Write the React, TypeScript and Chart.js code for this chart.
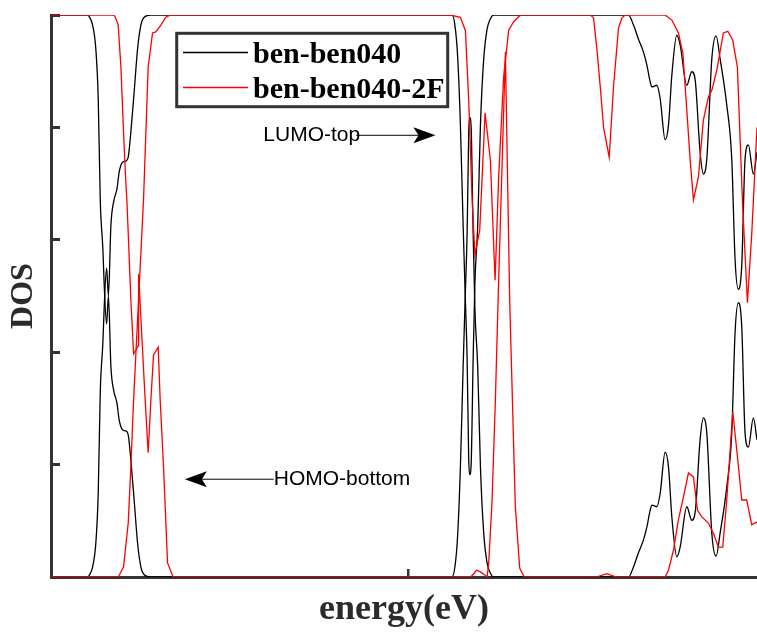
import React, { useEffect, useRef } from "react";
import { Chart, registerables } from "chart.js";

Chart.register(...registerables);

// ---------- data ----------
const seriesNames = ["ben-ben040", "ben-ben040-2F"];
const seriesColors = ["#000000", "#ff0000"];
const xTitle = "energy(eV)";
const yTitle = "DOS";
const xTickValues = [0];
const yTickValues = [0, 0.2, 0.4, 0.6, 0.8, 1];
const annotationTexts = ["LUMO-top", "HOMO-bottom"];

const blackEnergy = [
  -5.0, -4.487, -4.465, -4.418, -4.372, -4.339, -4.311, -4.274, -4.256, -4.222, -4.197, -4.162, -4.12,
  -4.078, -4.046, -3.999, -3.953, -3.92, -3.883, -3.837, -3.789, -3.743, -3.697, -3.603, 0.61, 0.656,
  0.689, 0.726, 0.764, 0.796, 0.82, 0.842, 0.856, 0.876, 0.904, 0.929, 0.968, 1.006, 1.052, 1.099,
  1.145, 1.187, 3.077, 3.147, 3.216, 3.286, 3.334, 3.38, 3.404, 3.473, 3.52, 3.589, 3.636, 3.683,
  3.753, 3.799, 3.892, 3.962, 4.008, 4.078, 4.124, 4.172, 4.242, 4.302, 4.358, 4.451, 4.521, 4.567,
  4.613, 4.661, 4.707, 4.753, 4.823, 4.874,
];
const blackDosA = [
  1, 1, 0.997, 0.982, 0.938, 0.849, 0.671, 0.582, 0.52, 0.45, 0.5, 0.374, 0.33, 0.31, 0.279, 0.262,
  0.26, 0.253, 0.208, 0.137, 0.06, 0.018, 0.004, 0, 0, 0.025, 0.078, 0.196, 0.374, 0.51, 0.612, 0.79,
  0.818, 0.8, 0.612, 0.475, 0.374, 0.196, 0.078, 0.025, 0.007, 0, 0, 0.018, 0.043, 0.066, 0.089,
  0.119, 0.128, 0.125, 0.149, 0.222, 0.196, 0.107, 0.036, 0.053, 0.125, 0.101, 0.114, 0.244, 0.283,
  0.256, 0.078, 0.037, 0.078, 0.16, 0.256, 0.434, 0.488, 0.445, 0.256, 0.231, 0.283, 0.244,
];
const blackDosB = [
  0, 0, 0.003, 0.018, 0.062, 0.151, 0.329, 0.418, 0.48, 0.55, 0.5, 0.626, 0.67, 0.69, 0.721, 0.738,
  0.74, 0.747, 0.792, 0.863, 0.94, 0.982, 0.996, 1, 1, 0.975, 0.922, 0.804, 0.626, 0.49, 0.388, 0.21,
  0.182, 0.2, 0.388, 0.525, 0.626, 0.804, 0.922, 0.975, 0.993, 1, 1, 0.982, 0.957, 0.934, 0.911,
  0.881, 0.872, 0.875, 0.851, 0.778, 0.804, 0.893, 0.964, 0.947, 0.875, 0.899, 0.886, 0.756, 0.717,
  0.744, 0.922, 0.963, 0.922, 0.84, 0.744, 0.566, 0.512, 0.555, 0.744, 0.769, 0.717, 0.756,
];

const redEnergyA = [
  -5.0, -4.138, -4.106, -4.06, -4.022, -3.985, -3.953, -3.939, -3.92, -3.883, -3.845, -3.813, -3.781,
  -3.775, -3.683, -3.641, -3.603, -3.566, -3.501, -3.473, -3.426, -3.37, -3.292, 0.866, 0.908, 0.95,
  1.006, 1.061, 1.099, 1.122, 1.169, 1.215, 1.253, 1.309, 1.355, 1.415, 1.494, 1.555, 1.62, 2.626,
  2.775, 2.905, 3.589, 3.636, 3.706, 3.775, 3.845, 3.915, 3.985, 4.041, 4.102, 4.194, 4.264, 4.334,
  4.395, 4.451, 4.535, 4.591, 4.661, 4.73, 4.8, 4.874,
];
const redDosA = [
  1, 1, 0.998, 0.982, 0.907, 0.79, 0.701, 0.671, 0.612, 0.493, 0.397, 0.404, 0.411, 0.539, 0.315,
  0.221, 0.315, 0.395, 0.409, 0.315, 0.196, 0.025, 0, 0, 0.005, 0.012, 0.009, 0.004, 0, 0.025, 0.137,
  0.315, 0.493, 0.735, 0.934, 0.493, 0.125, 0.016, 0, 0, 0.006, 0, 0, 0.012, 0.048, 0.102, 0.142,
  0.185, 0.178, 0.119, 0.107, 0.096, 0.078, 0.053, 0.053, 0.137, 0.294, 0.226, 0.137, 0.137, 0.093,
  0.098,
];
const redEnergyB = [
  -5.0, -4.06, -4.022, -3.985, -3.953, -3.92, -3.883, -3.845, -3.706, -3.641, -3.58, -3.534, -3.464,
  -3.394, -3.324, 0.587, 0.726, 0.796, 0.842, 0.89, 0.929, 0.996, 1.071, 1.145, 1.211, 1.261, 1.331,
  1.401, 1.471, 1.564, 2.542, 2.588, 2.636, 2.682, 2.728, 2.807, 2.867, 2.937, 2.985, 3.031, 3.589,
  3.683, 3.775, 3.837, 3.892, 3.939, 3.985, 4.055, 4.124, 4.194, 4.242, 4.312, 4.404, 4.466, 4.535,
  4.6, 4.67, 4.74, 4.801, 4.874,
];
const redDosB = [
  0, 0, 0.009, 0.018, 0.057, 0.096, 0.196, 0.315, 0.671, 0.907, 0.968, 0.97, 0.982, 0.996, 1, 1,
  0.996, 0.972, 0.849, 0.671, 0.573, 0.617, 0.826, 0.742, 0.528, 0.712, 0.89, 0.973, 0.988, 1, 1,
  0.995, 0.938, 0.872, 0.8, 0.747, 0.872, 0.977, 0.995, 1, 1, 0.991, 0.968, 0.932, 0.831, 0.742,
  0.671, 0.712, 0.813, 0.854, 0.866, 0.902, 0.968, 0.971, 0.955, 0.907, 0.671, 0.488, 0.612, 0.8,
];

const toPoints = (xs: number[], ys: number[]) => xs.map((x, i) => ({ x, y: ys[i] }));

// ---------- drawing helpers ----------
function arrowHead(ctx: CanvasRenderingContext2D, tipX: number, tipY: number, dir: number) {
  const len = 22;
  const half = 8;
  const notch = 17;
  ctx.beginPath();
  ctx.moveTo(tipX, tipY);
  ctx.lineTo(tipX - dir * len, tipY - half);
  ctx.lineTo(tipX - dir * notch, tipY);
  ctx.lineTo(tipX - dir * len, tipY + half);
  ctx.closePath();
  ctx.fill();
}

const annotationPlugin = {
  id: "dosAnnotations",
  afterDraw(chart: any) {
    const { ctx, scales } = chart;
    const xs = scales.x;
    const ys = scales.y;
    ctx.save();
    ctx.font = "21px 'Liberation Sans', Arial, sans-serif";
    ctx.fillStyle = "#000";
    ctx.strokeStyle = "#000";
    ctx.lineWidth = 1;
    ctx.textBaseline = "middle";
    ctx.textAlign = "left";

    // LUMO-top: text then arrow pointing right
    const ly = ys.getPixelForValue(0.786);
    const lx = xs.getPixelForValue(-2.03);
    ctx.fillText(annotationTexts[0], lx, ly);
    const lEnd = lx + ctx.measureText(annotationTexts[0]).width - 4;
    const lTip = xs.getPixelForValue(0.377);
    ctx.beginPath();
    ctx.moveTo(lEnd, ly);
    ctx.lineTo(lTip - 10, ly);
    ctx.stroke();
    arrowHead(ctx, lTip, ly, 1);

    // HOMO-bottom: arrow pointing left then text
    const hy = ys.getPixelForValue(0.174);
    const hx = xs.getPixelForValue(-1.885);
    ctx.fillText(annotationTexts[1], hx, hy);
    const hTip = xs.getPixelForValue(-3.128);
    ctx.beginPath();
    ctx.moveTo(hx, hy);
    ctx.lineTo(hTip + 10, hy);
    ctx.stroke();
    arrowHead(ctx, hTip, hy, -1);
    ctx.restore();
  },
};

const legendBoxPlugin = {
  id: "legendBox",
  afterDraw(chart: any) {
    const { ctx } = chart;
    ctx.save();
    ctx.fillStyle = "#fff";
    ctx.fillRect(176.7, 33.3, 271, 73.4);
    ctx.strokeStyle = "#333";
    ctx.lineWidth = 3;
    ctx.strokeRect(176.7, 33.3, 271, 73.4);
    const rows = [52.5, 87.5];
    ctx.font = "bold 30px 'Liberation Serif', 'Times New Roman', serif";
    ctx.textBaseline = "alphabetic";
    ctx.textAlign = "left";
    seriesNames.forEach((name, i) => {
      ctx.strokeStyle = seriesColors[i];
      ctx.lineWidth = 1.3;
      ctx.beginPath();
      ctx.moveTo(183, rows[i]);
      ctx.lineTo(248, rows[i]);
      ctx.stroke();
      ctx.fillStyle = "#000";
      ctx.fillText(name, 253, rows[i] + 10.5);
    });
    ctx.restore();
  },
};

export default function App() {
  const ref = useRef<HTMLCanvasElement | null>(null);

  useEffect(() => {
    document.body.style.margin = "0";
    const canvas = ref.current;
    if (!canvas) return;
    const lineBase = { pointRadius: 0, borderWidth: 1.3, fill: false };
    const chart = new Chart(canvas, {
      type: "line",
      data: {
        datasets: [
          { ...lineBase, label: seriesNames[1], data: toPoints(redEnergyA, redDosA), borderColor: seriesColors[1], order: 0 },
          { ...lineBase, label: seriesNames[1] + " ", data: toPoints(redEnergyB, redDosB), borderColor: seriesColors[1], order: 0 },
          { ...lineBase, label: seriesNames[0], data: toPoints(blackEnergy, blackDosA), borderColor: seriesColors[0], order: 1, cubicInterpolationMode: "monotone" },
          { ...lineBase, label: seriesNames[0] + " ", data: toPoints(blackEnergy, blackDosB), borderColor: seriesColors[0], order: 1, cubicInterpolationMode: "monotone" },
        ],
      } as any,
      options: {
        responsive: false,
        animation: false,
        devicePixelRatio: 1,
        layout: { padding: { top: 15, right: 0, left: 0, bottom: 0 } },
        plugins: { legend: { display: false }, tooltip: { enabled: false } },
        scales: {
          x: {
            type: "linear",
            min: -5,
            max: 4.874,
            afterBuildTicks: (s: any) => { s.ticks = xTickValues.map((v) => ({ value: v })); },
            afterFit: (s: any) => { s.height = 55; },
            ticks: { display: false },
            grid: { drawOnChartArea: false, drawTicks: true, tickLength: -8, color: "#333", lineWidth: 2.5 },
            border: { display: true, color: "#333", width: 3 },
            title: {
              display: true,
              text: xTitle,
              color: "#2b2b2b",
              font: { family: "'Liberation Serif', 'Times New Roman', serif", weight: "bold", size: 36, lineHeight: 1 },
              padding: { top: 0, bottom: 4 },
            },
          },
          y: {
            type: "linear",
            min: 0,
            max: 1,
            afterBuildTicks: (s: any) => { s.ticks = yTickValues.map((v) => ({ value: v })); },
            afterFit: (s: any) => { s.width = 51; },
            ticks: { display: false },
            grid: { drawOnChartArea: false, drawTicks: true, tickLength: -9, color: "#333", lineWidth: 3 },
            border: { display: true, color: "#333", width: 3 },
            title: {
              display: true,
              text: yTitle,
              color: "#2b2b2b",
              font: { family: "'Liberation Serif', 'Times New Roman', serif", weight: "bold", size: 32, lineHeight: 1 },
              padding: { top: 8, bottom: 0 },
            },
          },
        },
      } as any,
      plugins: [annotationPlugin, legendBoxPlugin],
    });
    return () => chart.destroy();
  }, []);

  return (
    <div style={{ width: 757, height: 632, position: "relative" }}>
      <canvas ref={ref} width={757} height={632} style={{ display: "block" }} />
    </div>
  );
}
